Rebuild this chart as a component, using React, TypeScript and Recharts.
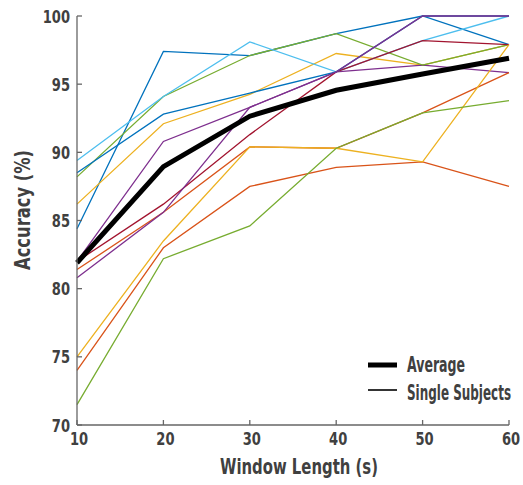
import React from 'react';
import { LineChart, Line, XAxis, YAxis } from 'recharts';

const windowLengths = [10, 20, 30, 40, 50, 60];
const xTicks = [10, 20, 30, 40, 50, 60];
const yTicks = [70, 75, 80, 85, 90, 95, 100];

const subject1 = [84.4, 97.4, 97.1, 98.7, 100, 97.9];
const subject2 = [74.0, 83.0, 87.5, 88.9, 89.3, 87.5];
const subject3 = [86.2, 92.1, 94.25, 97.25, 96.4, 97.9];
const subject4 = [82.0, 90.8, 93.3, 95.9, 96.4, 95.85];
const subject5 = [88.2, 94.1, 97.1, 98.7, 96.4, 97.9];
const subject6 = [89.4, 94.1, 98.1, 95.9, 98.2, 100];
const subject7 = [82.0, 86.2, 91.3, 95.9, 98.2, 97.9];
const subject8 = [88.5, 92.8, 94.35, 95.9, 100, 100];
const subject9 = [81.4, 85.6, 90.4, 90.3, 92.9, 95.85];
const subject10 = [75.0, 83.5, 90.4, 90.3, 89.3, 97.9];
const subject11 = [80.8, 85.6, 93.3, 95.9, 100, 100];
const subject12 = [71.5, 82.2, 84.6, 90.3, 92.9, 93.8];
const average = [81.9, 88.95, 92.65, 94.55, 95.75, 96.9];

const subjects = [
  subject1, subject2, subject3, subject4, subject5, subject6,
  subject7, subject8, subject9, subject10, subject11, subject12,
];
const subjectColors = [
  '#0072BD', '#D95319', '#EDB120', '#7E2F8E', '#77AC30', '#4DBEEE',
  '#A2142F', '#0072BD', '#D95319', '#EDB120', '#7E2F8E', '#77AC30',
];

const legendLabels = ['Average', 'Single Subjects'];

const data = windowLengths.map((x, i) => {
  const row: Record<string, number> = { x, avg: average[i] };
  subjects.forEach((s, k) => {
    row[`s${k + 1}`] = s[i];
  });
  return row;
});

const FONT = '"DejaVu Sans Condensed", "DejaVu Sans", sans-serif';
const TEXT = '#404040';
const AXIS = '#666666';
const DIGIT_W = 9.1;

const XTick = (props: any) => {
  const { x, y, payload } = props;
  const s = String(payload.value);
  return (
    <text
      x={x + 2}
      y={y}
      dy="0.71em"
      textAnchor="middle"
      fontFamily={FONT}
      fontWeight={700}
      fontSize={18.5}
      fill={TEXT}
      textLength={s.length * DIGIT_W}
      lengthAdjust="spacingAndGlyphs"
    >
      {s}
    </text>
  );
};

const YTick = (props: any) => {
  const { x, y, payload } = props;
  const s = String(payload.value);
  return (
    <text
      x={x}
      y={y}
      dy="0.36em"
      textAnchor="end"
      fontFamily={FONT}
      fontWeight={700}
      fontSize={18.5}
      fill={TEXT}
      textLength={s.length * DIGIT_W}
      lengthAdjust="spacingAndGlyphs"
    >
      {s}
    </text>
  );
};

export default function App() {
  return (
    <div style={{ position: 'absolute', left: 0, top: 0, width: 523, height: 485, background: '#fff' }}>
      <LineChart
        width={523}
        height={485}
        data={data}
        margin={{ top: 16, right: 14, left: 0, bottom: 0 }}
      >
        <XAxis
          dataKey="x"
          type="number"
          domain={[10, 60]}
          ticks={xTicks}
          height={60}
          tickSize={-5}
          tickMargin={12}
          tick={<XTick />}
          stroke={AXIS}
          strokeWidth={1.3}
          tickLine={{ stroke: AXIS }}
          interval={0}
          label={{
            content: () => (
              <text
                x={299}
                y={474}
                textAnchor="middle"
                fontFamily={FONT}
                fontWeight={700}
                fontSize={22}
                fill={TEXT}
                textLength={158}
                lengthAdjust="spacingAndGlyphs"
              >
                Window Length (s)
              </text>
            ),
          }}
        />
        <YAxis
          type="number"
          domain={[70, 100]}
          ticks={yTicks}
          width={77}
          tickSize={-5}
          tickMargin={12}
          tick={<YTick />}
          stroke={AXIS}
          strokeWidth={1.3}
          tickLine={{ stroke: AXIS }}
          interval={0}
          label={{
            content: () => (
              <text
                x={30}
                y={210}
                transform="rotate(-90 30 210)"
                textAnchor="middle"
                fontFamily={FONT}
                fontWeight={700}
                fontSize={22}
                fill={TEXT}
                textLength={120}
                lengthAdjust="spacingAndGlyphs"
              >
                Accuracy (%)
              </text>
            ),
          }}
        />
        {subjects.map((_, k) => (
          <Line
            key={k}
            type="linear"
            dataKey={`s${k + 1}`}
            stroke={subjectColors[k]}
            strokeWidth={1.3}
            dot={false}
            activeDot={false}
            isAnimationActive={false}
          />
        ))}
        <Line
          type="linear"
          dataKey="avg"
          stroke="#000"
          strokeWidth={5}
          dot={false}
          activeDot={false}
          isAnimationActive={false}
        />
      </LineChart>
      <svg
        width={523}
        height={485}
        style={{ position: 'absolute', left: 0, top: 0, pointerEvents: 'none' }}
      >
        <line x1={368} x2={397} y1={365} y2={365} stroke="#000" strokeWidth={5} />
        <text
          x={407}
          y={372}
          fontFamily={FONT}
          fontWeight={700}
          fontSize={22}
          fill={TEXT}
          textLength={58}
          lengthAdjust="spacingAndGlyphs"
        >
          {legendLabels[0]}
        </text>
        <line x1={368} x2={397} y1={390} y2={390} stroke="#000" strokeWidth={1.6} />
        <text
          x={407}
          y={400}
          fontFamily={FONT}
          fontWeight={700}
          fontSize={22}
          fill={TEXT}
          textLength={104}
          lengthAdjust="spacingAndGlyphs"
        >
          {legendLabels[1]}
        </text>
      </svg>
    </div>
  );
}
